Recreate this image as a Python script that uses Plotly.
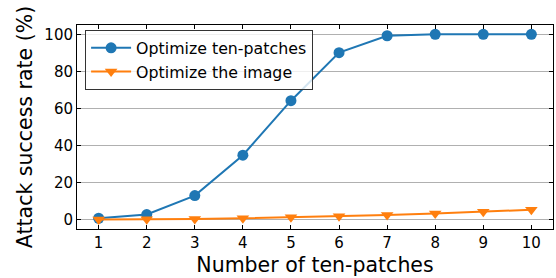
import plotly.graph_objects as go

x_vals = [1, 2, 3, 4, 5, 6, 7, 8, 9, 10]
ten_patches = [0.8, 2.8, 13.0, 34.8, 64.2, 90.1, 99.2, 100.0, 100.0, 100.0]
whole_image = [0.1, 0.2, 0.4, 0.8, 1.3, 1.9, 2.6, 3.3, 4.3, 5.4]
series_names = ["Optimize ten-patches", "Optimize the image"]
y_ticks = [0, 20, 40, 60, 80, 100]

blue = "#1f77b4"
orange = "#ff7f0e"
font = "DejaVu Sans"

fig = go.Figure()
fig.add_trace(go.Scatter(x=x_vals, y=ten_patches, name=series_names[0], mode="lines+markers",
                         line=dict(color=blue, width=2), marker=dict(symbol="circle", size=11, color=blue)))
fig.add_trace(go.Scatter(x=x_vals, y=whole_image, name=series_names[1], mode="lines+markers",
                         line=dict(color=orange, width=2), marker=dict(symbol="triangle-down", size=11, color=orange)))

fig.update_layout(
    width=556, height=278,
    margin=dict(l=77, r=3, t=25, b=49),
    paper_bgcolor="white", plot_bgcolor="white",
    font=dict(family=font, size=15, color="black"),
    showlegend=True,
    legend=dict(x=0.017, y=0.975, xanchor="left", yanchor="top",
                bordercolor="#333333", borderwidth=1, bgcolor="rgba(255,255,255,0.8)",
                font=dict(size=15.8, family=font), tracegroupgap=0, itemwidth=40),
)
fig.update_xaxes(range=[0.55, 10.45], tickvals=x_vals, ticks="inside", ticklen=4, tickcolor="black",
                 showline=True, linecolor="black", linewidth=1, mirror="ticks", showgrid=False, zeroline=False,
                 automargin=False,
                 title=dict(text="Number of ten-patches", font=dict(size=20.5, family=font), standoff=6),
                 tickfont=dict(size=15))
fig.update_yaxes(range=[-5, 105], tickvals=y_ticks, ticks="inside", ticklen=4, tickcolor="black",
                 showline=True, linecolor="black", linewidth=1, mirror="ticks", showgrid=True,
                 gridcolor="#b0b0b0", gridwidth=1, zeroline=False, automargin=False,
                 title=dict(text="Attack success rate (%)", font=dict(size=20.5, family=font), standoff=6),
                 tickfont=dict(size=15))

fig.write_html("out.html", config={"displayModeBar": False},
               post_script="document.body.style.margin='0';document.body.style.overflow='hidden';")
